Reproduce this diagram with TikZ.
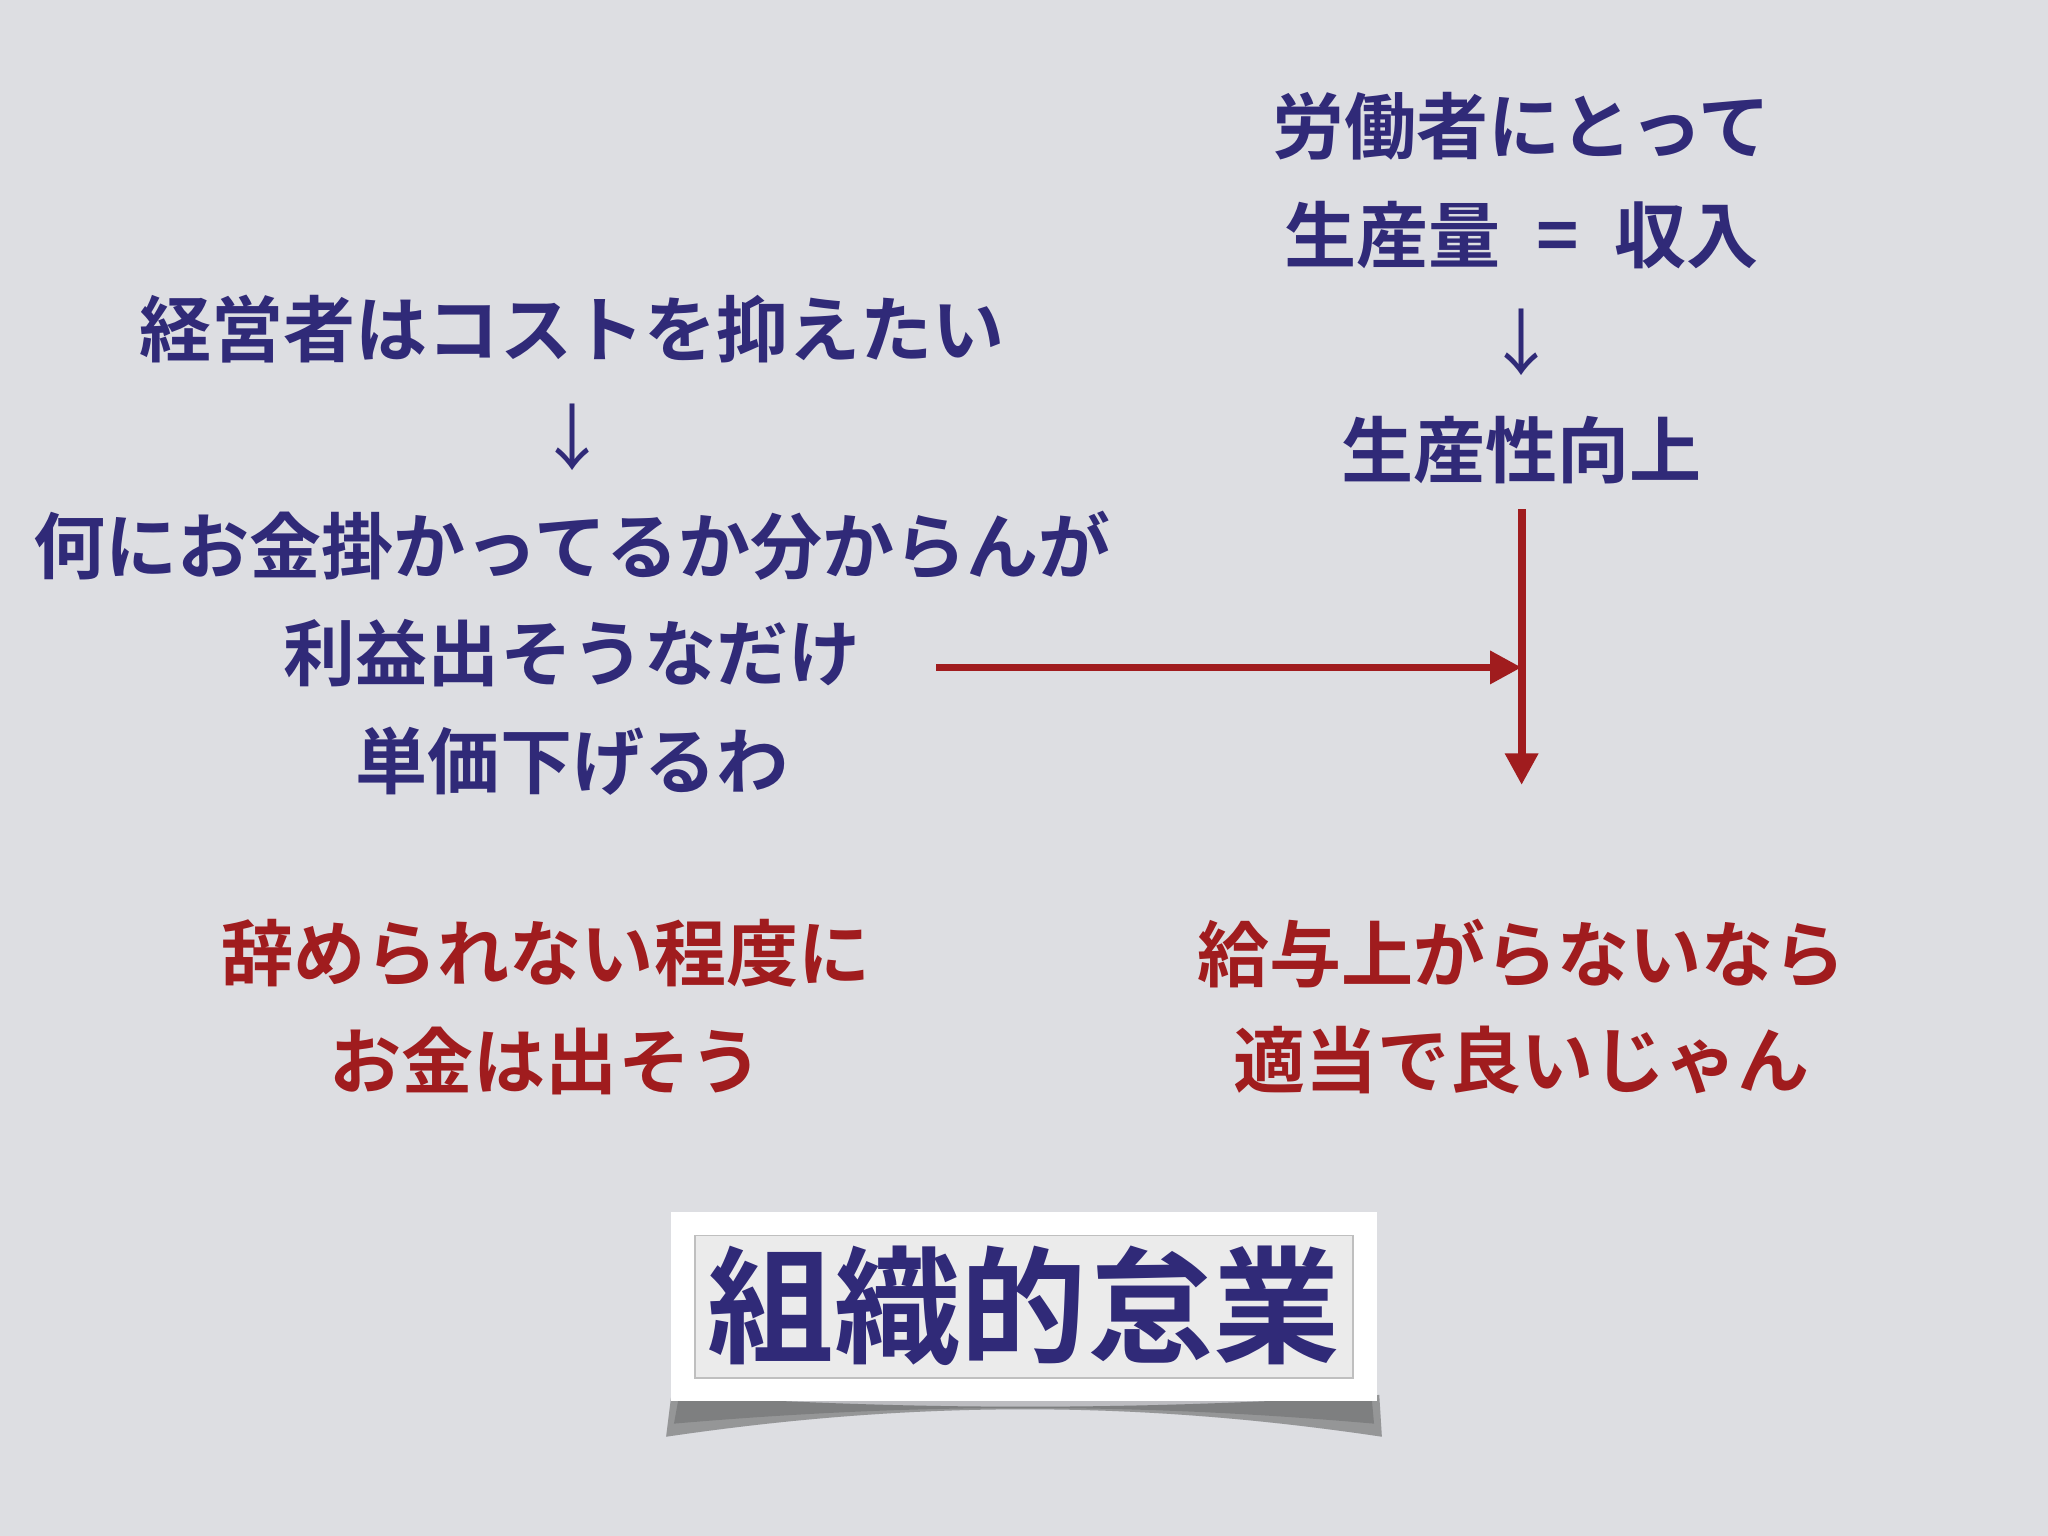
\documentclass[tikz,border=0pt]{standalone}
\usepackage{fontspec}
\setmainfont{Noto Sans CJK JP}[BoldFont={* Bold}]
\usetikzlibrary{arrows.meta}
\definecolor{bg}{RGB}{221,222,226}
\definecolor{navy}{RGB}{48,42,120}
\definecolor{dred}{RGB}{160,28,30}
\tikzset{
 bt/.style={text=navy,font=\fontsize{20.5}{25}\selectfont\bfseries,inner sep=0pt},
 rt/.style={text=dred,font=\fontsize{20.5}{25}\selectfont\bfseries,inner sep=0pt},
 dn/.style={text=navy,font=\fontsize{20.5}{25}\selectfont,inner sep=0pt},
 rarr/.style={draw=dred,line width=2.2pt,-{Triangle[length=9pt,width=9pt]}}
}
\begin{document}
\begin{tikzpicture}[x=0.01306cm,y=-0.01306cm]
\fill[bg] (0,0) rectangle (1568,1176);
\useasboundingbox (0,0) rectangle (1568,1176);
\node[bt] (w1) at (1165,97) {労働者にとって};
\node[bt] (w2) at (1165,180) {生産量\hspace{0.5em}=\hspace{0.5em}収入};
\node[dn] (wa) at (1165,262) {↓};
\node[bt] (w3) at (1165,345) {生産性向上};
\node[bt] (m1) at (438,252) {経営者はコストを抑えたい};
\node[dn] (ma) at (438,335) {↓};
\node[bt] (m2) at (438,418) {何にお金掛かってるか分からんが};
\node[bt] (m3) at (438,500) {利益出そうなだけ};
\node[bt] (m4) at (438,583) {単価下げるわ};
\coordinate (vtop) at (1165,390);
\coordinate (vbot) at (1165,601);
\coordinate (hs) at (717,511);
\coordinate (he) at (1165,511);
\draw[rarr] (vtop) -- (vbot);
\draw[rarr] (hs) -- (he);
\node[rt] (r1) at (418,730) {辞められない程度に};
\node[rt] (r2) at (418,812) {お金は出そう};
\node[rt] (r3) at (1165,730) {給与上がらないなら};
\node[rt] (r4) at (1165,812) {適当で良いじゃん};
\foreach \o in {0.12,0.12,0.12}{
\fill[black,opacity=\o] (514,1068) .. controls (700,1080) and (870,1080) .. (1056,1068) -- (1058,1100) .. controls (870,1072) and (700,1072) .. (510,1100) -- cycle;}
\fill[black,opacity=0.15] (520,1068) -- (1050,1068) -- (1052,1090) .. controls (870,1074) and (700,1074) .. (516,1090) -- cycle;
\fill[white] (514,928) rectangle (1054,1073);
\draw[black!25,fill=black!8] (532,946) rectangle (1036,1055);
\node[text=navy,font=\fontsize{36}{44}\selectfont\bfseries,inner sep=0pt] (t) at (784,1000) {組織的怠業};
\end{tikzpicture}
\end{document}
